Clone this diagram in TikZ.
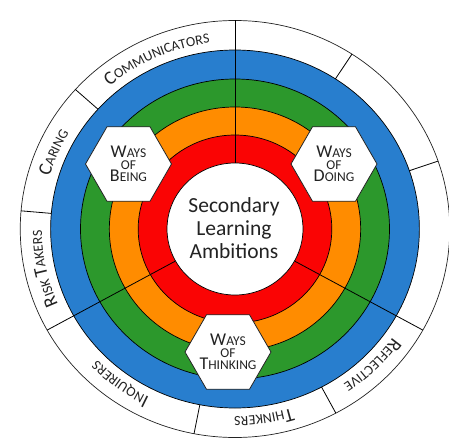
\documentclass[tikz,border=0pt]{standalone}
\usepackage{fontspec}
\setmainfont{Carlito}
\usetikzlibrary{shapes.geometric,decorations.text}

\definecolor{ringblue}{RGB}{40,126,206}
\definecolor{ringgreen}{RGB}{44,152,44}
\definecolor{ringorange}{RGB}{255,140,0}
\definecolor{ringred}{RGB}{250,4,4}
\definecolor{inkgray}{RGB}{35,35,35}

\newcommand{\capsz}{\fontsize{19}{19}\selectfont}
\newcommand{\smsz}{\fontsize{14}{14}\selectfont}
\newcommand{\hexcap}{\fontsize{18}{18}\selectfont}
\newcommand{\hexsm}{\fontsize{13.5}{18}\selectfont}

\tikzset{
    ring/.style={draw=black, line width=0.7pt},
    divider/.style={draw=black, line width=0.8pt},
    hexa/.style={regular polygon, regular polygon sides=6, minimum size=86pt,
        inner sep=0pt, fill=white, draw=inkgray, line width=0.8pt},
    hexlabel/.style={align=center, text=inkgray, inner sep=0pt},
    ringtext/.style={decorate, decoration={text along path, text align=center,
        text color=inkgray}},
}

\begin{document}
\begin{tikzpicture}[x=1pt, y=1pt]
    \useasboundingbox (-235,-213) rectangle (214,229);
    \begin{scope}[xscale=1.03]
        \filldraw[ring, fill=white, draw=inkgray] (0,0) circle[radius=208.5];
        \filldraw[ring, fill=ringblue] (0,0) circle[radius=179];
        \filldraw[ring, fill=ringgreen] (0,0) circle[radius=150];
        \filldraw[ring, fill=ringorange] (0,0) circle[radius=122];
        \filldraw[ring, fill=ringred] (0,0) circle[radius=94];

        % three sectors
        \foreach \a in {90,209,331} {
            \draw[divider] (\a:66) -- (\a:208.5);
        }
        % outer label cells
        \foreach \a in {19,57,138,175,259,298} {
            \draw[divider] (\a:179) -- (\a:208.5);
        }
        \filldraw[ring, fill=white] (0,0) circle[radius=66];

        \path[ringtext, decoration={text={|\capsz|C|\smsz|OMMUNICATORS}}]
            (138:187.5) arc[start angle=138, end angle=90, radius=187.5];
        \path[ringtext, decoration={text={|\capsz|C|\smsz|ARING}}]
            (175:187.5) arc[start angle=175, end angle=138, radius=187.5];
        \path[ringtext, decoration={text={|\capsz|R|\smsz|ISK |\capsz|T|\smsz|AKERS}}]
            (209:187.5) arc[start angle=209, end angle=175, radius=187.5];
        \path[ringtext, decoration={text={|\capsz|I|\smsz|NQUIRERS}}]
            (259:187.5) arc[start angle=259, end angle=209, radius=187.5];
        \path[ringtext, decoration={text={|\capsz|T|\smsz|HINKERS}}]
            (298:187.5) arc[start angle=298, end angle=259, radius=187.5];
        \path[ringtext, decoration={text={|\capsz|R|\smsz|EFLECTIVE}}]
            (331:187.5) arc[start angle=331, end angle=298, radius=187.5];
    \end{scope}

    \node[text=inkgray, align=center, font=\fontsize{21.5}{23}\selectfont] (hub) at (-1,1)
        {Secondary\\Learning\\Ambitions};

    \node[hexa] (being) at (-106.5,65) {};
    \node[hexa] (doing) at (99,65) {};
    \node[hexa] (thinking) at (-7,-123) {};
    \node[hexlabel] at (being) {{\hexcap W}{\hexsm AYS}\\{\hexsm OF}\\{\hexcap B}{\hexsm EING}};
    \node[hexlabel] at (doing) {{\hexcap W}{\hexsm AYS}\\{\hexsm OF}\\{\hexcap D}{\hexsm OING}};
    \node[hexlabel] at (thinking) {{\hexcap W}{\hexsm AYS}\\{\hexsm OF}\\{\hexcap T}{\hexsm HINKING}};
\end{tikzpicture}
\end{document}
